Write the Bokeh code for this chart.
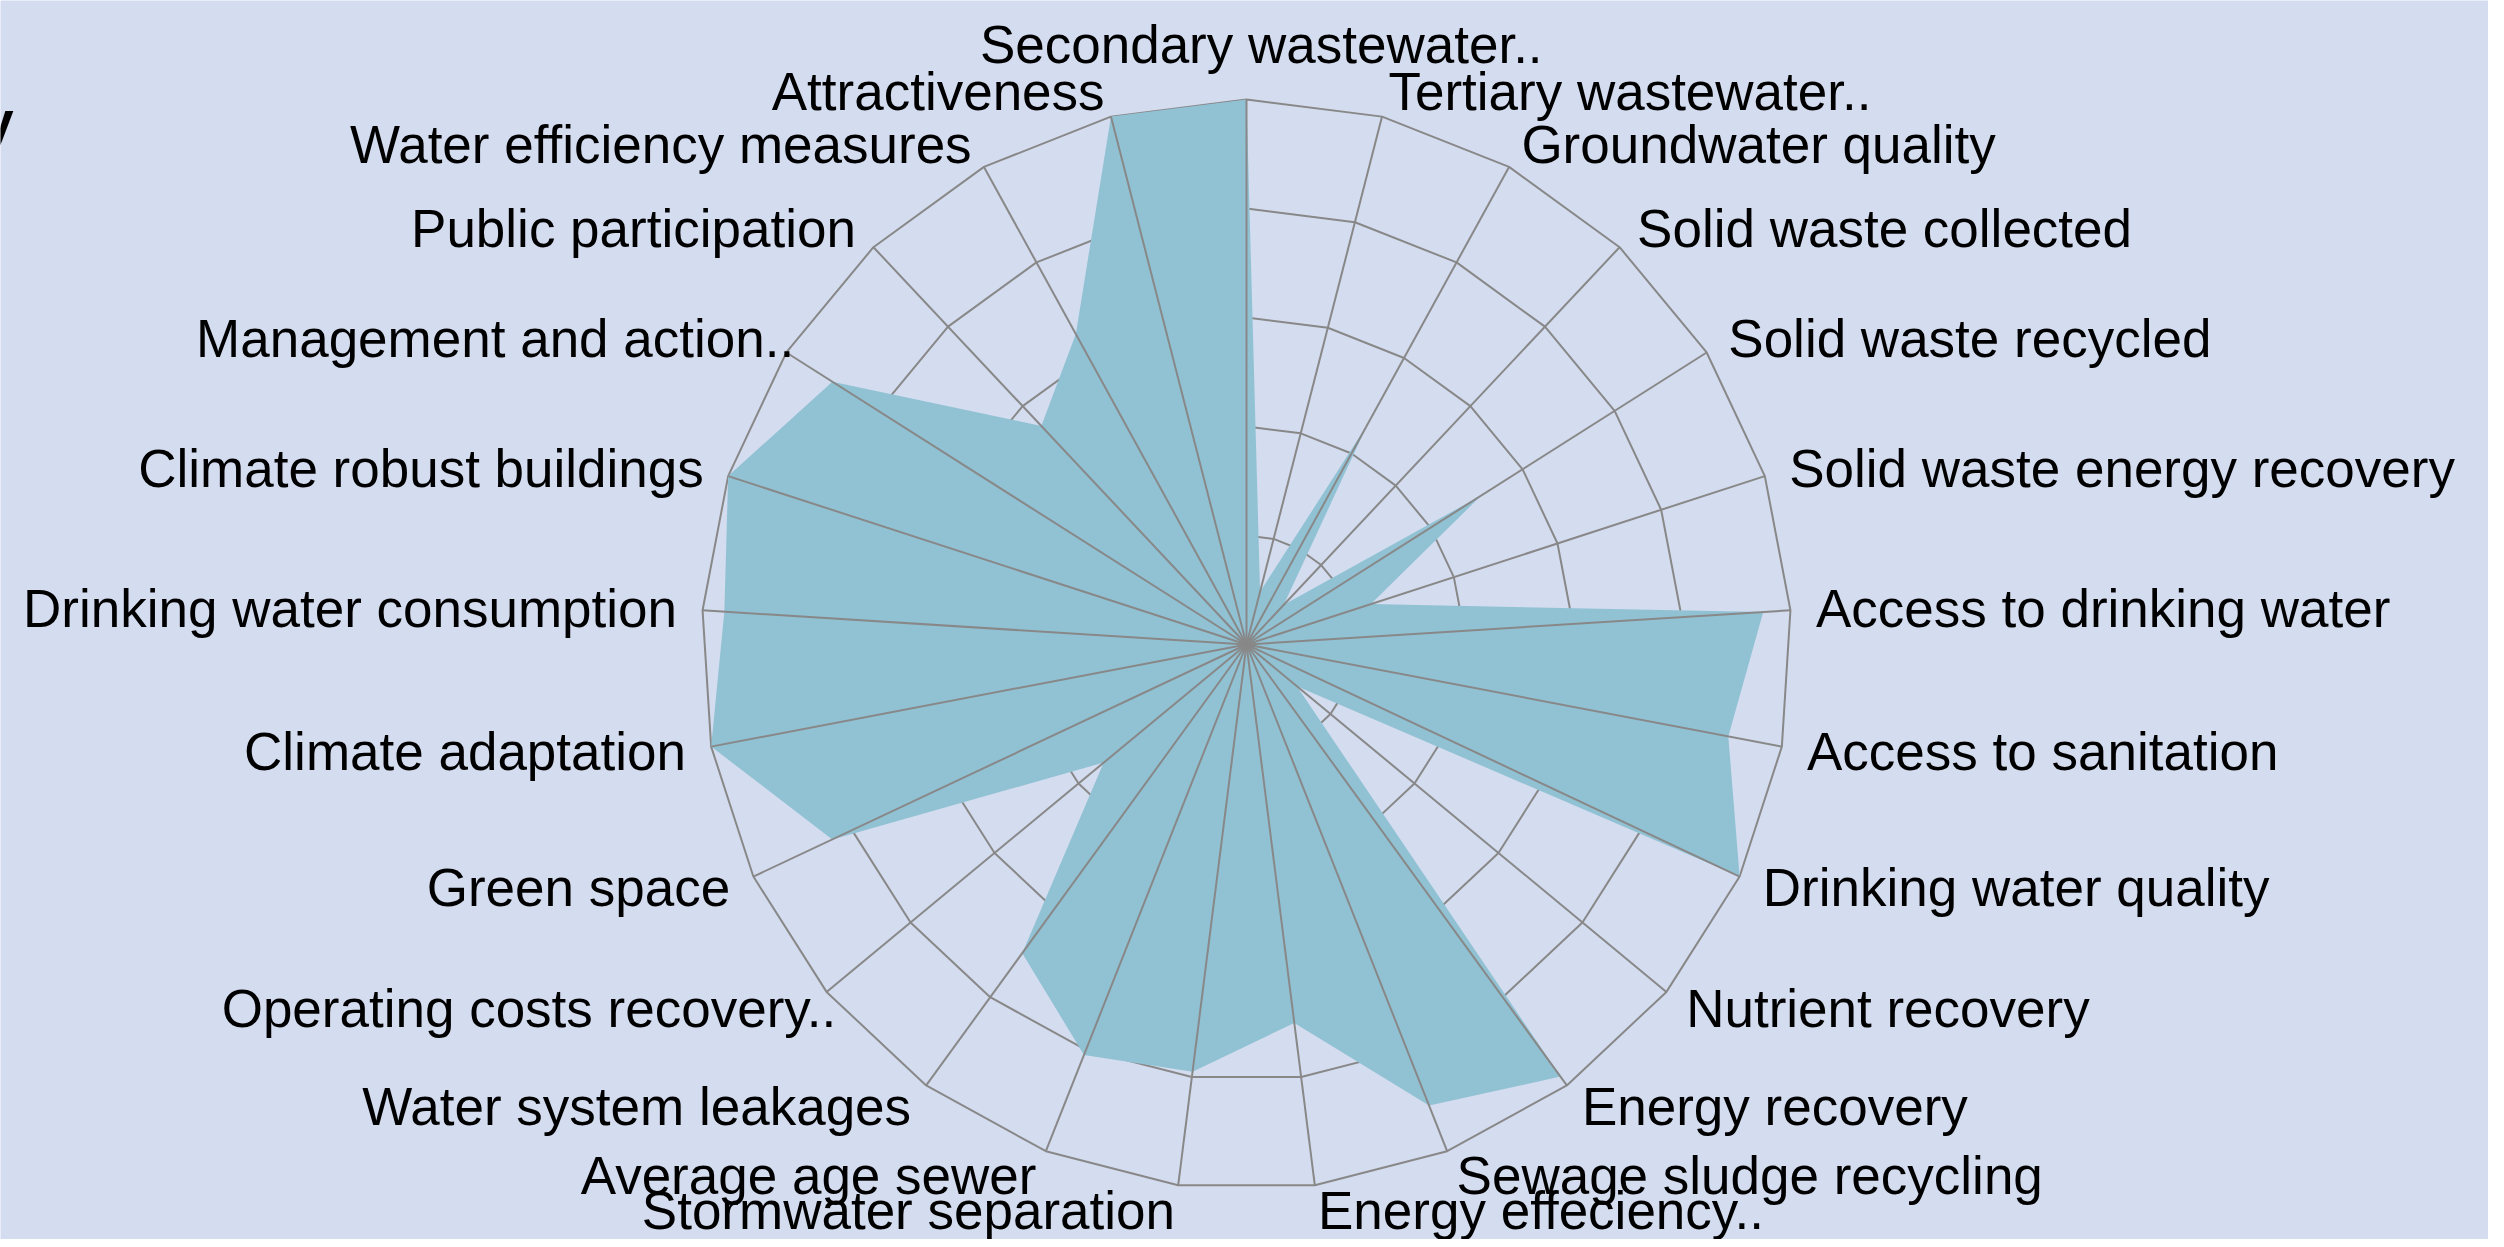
import numpy as np
from bokeh.plotting import figure
from bokeh.models import ColumnDataSource, Label
from bokeh.core.properties import value
from bokeh.embed import file_html
from bokeh.resources import INLINE

# ---------------- data ----------------
categories = [
    "Secondary wastewater..", "Tertiary wastewater..", "Groundwater quality",
    "Solid waste collected", "Solid waste recycled", "Solid waste energy recovery",
    "Access to drinking water", "Access to sanitation", "Drinking water quality",
    "Nutrient recovery", "Energy recovery", "Sewage sludge recycling",
    "Energy effeciency..", "Stormwater separation", "Average age sewer",
    "Water system leakages", "Operating costs recovery..", "Green space",
    "Climate adaptation", "Drinking water consumption", "Climate robust buildings",
    "Management and action..", "Public participation", "Water efficiency measures",
    "Attractiveness",
]
scores = [
    1.00, 0.10, 0.46, 0.10, 0.51, 0.24,
    0.95, 0.90, 1.00, 0.12, 0.98, 0.91,
    0.70, 0.79, 0.81, 0.70, 0.34, 0.84,
    1.00, 0.96, 1.00, 0.90, 0.55, 0.65,
    1.00,
]
ring_levels = [0.2, 0.4, 0.6, 0.8, 1.0]
title_fragment = "y"

# ---------------- style ----------------
BG = "#D4DCEF"
FILL = "#91C2D4"
GRID = "#888888"
FONT = "Liberation Sans"
FONT_PX = 53
LABEL_R = 1.047

W, H = 2488, 1239
PX = 545.0                 # pixels per unit radius
CX, CY = 1246.0, 644.0     # centre of radar inside the frame (px from left / top)

x0 = -CX / PX
x1 = x0 + W / PX
y1 = CY / PX
y0 = y1 - H / PX

p = figure(width=W, height=H, x_range=(x0, x1), y_range=(y0, y1),
           output_backend="svg", toolbar_location=None, min_border=0,
           background_fill_color=BG, border_fill_color=BG,
           outline_line_color=None)
p.axis.visible = False
p.grid.visible = False

n = len(categories)
theta = np.arange(n) * 2 * np.pi / n
sx, sy = np.sin(theta), np.cos(theta)

# rings (under the filled area)
ring_xs = [list(np.append(lv * sx, lv * sx[0])) for lv in ring_levels]
ring_ys = [list(np.append(lv * sy, lv * sy[0])) for lv in ring_levels]
p.multi_line(xs=ring_xs, ys=ring_ys, line_color=GRID, line_width=2)

# filled area
vals = np.array(scores)
p.patch(x=list(vals * sx), y=list(vals * sy), fill_color=FILL, fill_alpha=1.0,
        line_color=None)

# spokes (over the filled area)
rmax = max(ring_levels)
p.multi_line(xs=[[0, rmax * a] for a in sx], ys=[[0, rmax * b] for b in sy],
             line_color=GRID, line_width=2)

# labels
dots_w = 0.556 * FONT_PX
groups = {}
for i, name in enumerate(categories):
    ang = 360.0 * i / n
    if abs(ang) < 1e-9:
        align, base, frac = "center", "bottom", 0.5
    elif ang < 180:
        align, base, frac = "left", "middle", 0.0
    else:
        align, base, frac = "right", "middle", 1.0
    xo = frac * dots_w if name.endswith("..") else 0.0
    g = groups.setdefault((align, base), dict(x=[], y=[], text=[], xo=[]))
    g["x"].append(LABEL_R * sx[i])
    g["y"].append(LABEL_R * sy[i])
    g["text"].append(name)
    g["xo"].append(xo)

for (align, base), d in groups.items():
    p.text(x="x", y="y", text="text", x_offset="xo", source=ColumnDataSource(d),
           text_align=align, text_baseline=base, text_font=value(FONT),
           text_font_size=f"{FONT_PX}px", text_color="black")

# cut-off title fragment at the top-left edge
p.add_layout(Label(x=-18, y=H - 120, x_units="screen", y_units="screen",
                   text=title_fragment, text_font=FONT, text_font_style="bold",
                   text_font_size="56px", text_baseline="alphabetic",
                   text_color="black"))

open("out.html", "w").write(file_html(p, INLINE))
